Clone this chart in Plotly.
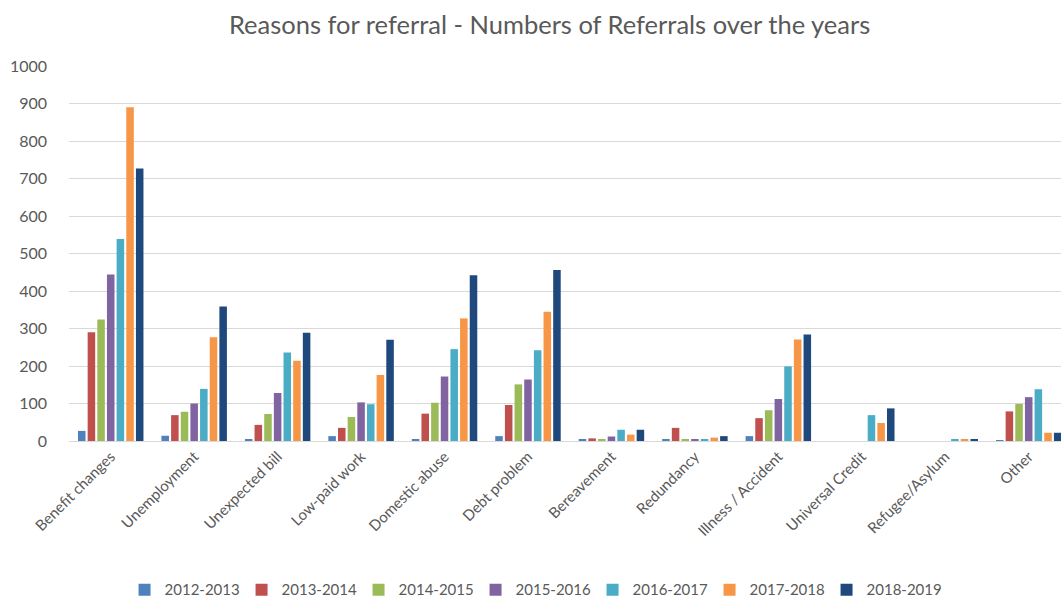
import plotly.graph_objects as go

categories = ["Benefit changes", "Unemployment", "Unexpected bill", "Low-paid work",
              "Domestic abuse", "Debt problem", "Bereavement", "Redundancy",
              "Illness / Accident", "Universal Credit", "Refugee/Asylum", "Other"]

years = ["2012-2013", "2013-2014", "2014-2015", "2015-2016", "2016-2017", "2017-2018", "2018-2019"]

v_2012_2013 = [27, 14, 4, 13, 4, 13, 3, 3, 13, 0, 0, 2]
v_2013_2014 = [290, 69, 43, 35, 73, 96, 7, 35, 61, 0, 0, 79]
v_2014_2015 = [324, 78, 72, 64, 102, 151, 4, 3, 82, 0, 0, 99]
v_2015_2016 = [444, 100, 128, 103, 172, 164, 12, 3, 112, 0, 0, 117]
v_2016_2017 = [539, 139, 236, 98, 245, 242, 30, 3, 199, 69, 4, 138]
v_2017_2018 = [890, 277, 214, 176, 327, 345, 17, 9, 271, 48, 4, 22]
v_2018_2019 = [727, 359, 289, 270, 442, 456, 30, 13, 284, 87, 4, 22]

series = [v_2012_2013, v_2013_2014, v_2014_2015, v_2015_2016, v_2016_2017, v_2017_2018, v_2018_2019]
colors = ["#4F81BD", "#C0504D", "#9BBB59", "#8064A2", "#4BACC6", "#F79646", "#1F497D"]

fig = go.Figure()
for name, vals, col in zip(years, series, colors):
    fig.add_trace(go.Bar(name=name, x=categories, y=vals, marker_color=col,
                         marker_line_width=0))

fig.update_layout(
    width=1061, height=603,
    barmode="group", bargap=0.19, bargroupgap=0.22,
    plot_bgcolor="white", paper_bgcolor="white",
    font=dict(family="Lato, Open Sans, sans-serif", color="#595959", size=15),
    title=dict(text="Reasons for referral - Numbers of Referrals over the years",
               x=0.518, xanchor="center", y=0.9585, yanchor="middle",
               font=dict(size=25.5, color="#595959")),
    margin=dict(l=69, r=0, t=66, b=162, autoexpand=False),
    legend=dict(orientation="h", x=0.056, xanchor="left", y=-0.397, yanchor="middle",
                font=dict(size=15, color="#595959"), entrywidth=72, entrywidthmode="pixels",
                itemwidth=30, traceorder="normal"),
    xaxis=dict(tickangle=-45, showline=True, linecolor="#D9D9D9", ticks="",
               range=[-0.5, 11.387], automargin=False,
               tickfont=dict(size=15, color="#595959")),
    yaxis=dict(range=[0, 1000], dtick=100, showgrid=True, gridcolor="#D9D9D9",
               zeroline=False, showline=False, ticks="", ticklabelstandoff=21,
               automargin=False,
               tickfont=dict(size=16, color="#595959")),
)

fig.write_html("out.html",
               config={"displayModeBar": False},
               post_script="document.body.style.margin='0';document.body.style.overflow='hidden';")
